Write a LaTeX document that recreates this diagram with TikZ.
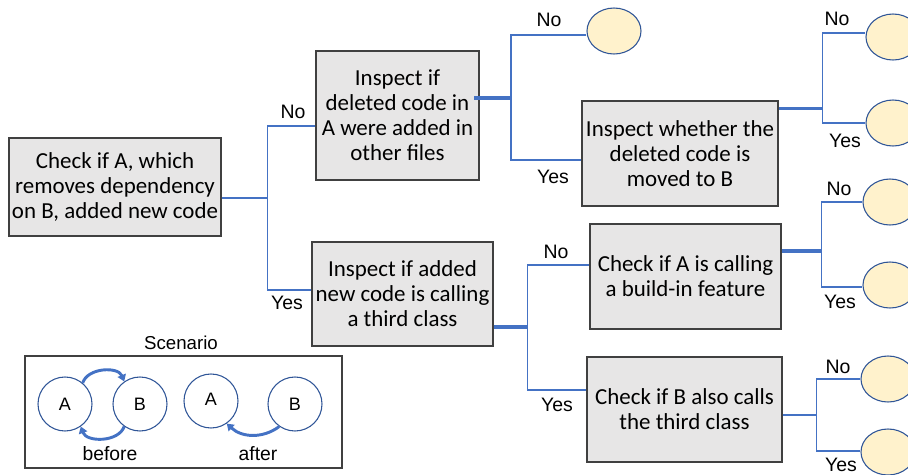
\documentclass[tikz,border=0pt]{standalone}
\usepackage{fontspec}
\setmainfont{Carlito}
\newfontfamily\arialfont{Liberation Sans}
\usetikzlibrary{positioning,shapes.geometric,arrows.meta}
\definecolor{linkblue}{HTML}{4472C4}
\definecolor{leafyellow}{HTML}{FFF2CC}
\definecolor{boxgray}{HTML}{E7E6E6}
\definecolor{circblue}{HTML}{2F5597}
\begin{document}
\begin{tikzpicture}[
  x=0.75pt, y=-0.75pt,
  check/.style={
    draw=black!75, fill=boxgray, line width=0.8pt,
    inner sep=0pt, align=center,
    font=\fontsize{17.2}{18.75}\selectfont
  },
  leaf/.style={
    ellipse, draw=circblue, fill=leafyellow, line width=0.8pt,
    minimum width=40.5pt, minimum height=34.5pt, inner sep=0pt
  },
  lbl/.style={font=\arialfont\fontsize{14.6}{16}\selectfont},
  link/.style={draw=linkblue, line width=1.3pt},
  stub/.style={draw=linkblue, line width=2.6pt},
  cls/.style={circle, draw=circblue, line width=0.8pt, minimum size=40.5pt,
    inner sep=0pt, font=\arialfont\fontsize{13.5}{15}\selectfont},
  dep/.style={draw=linkblue, line width=2.2pt,
    -{Triangle[length=5pt,width=6.5pt]}}
]
\useasboundingbox (0,0) rectangle (908,475);

% --- decision boxes ---
\node[check, minimum width=159pt, minimum height=73.5pt] (b1) at (115,187)
  {Check if A, which\\removes dependency\\on B, added new code};
\node[check, minimum width=122.25pt, minimum height=96.75pt] (b2) at (397.5,115.5)
  {Inspect if\\deleted code in\\A were added in\\other files};
\node[check, minimum width=135.75pt, minimum height=78pt] (b3) at (402.5,294)
  {Inspect if added\\new code is calling\\a third class};
\node[check, minimum width=147pt, minimum height=78.75pt] (b4) at (680,153.5)
  {Inspect whether the\\deleted code is\\moved to B};
\node[check, minimum width=143.25pt, minimum height=78.75pt] (b5) at (685.5,276.5)
  {Check if A is calling\\a build-in feature};
\node[check, minimum width=146.25pt, minimum height=78.75pt] (b6) at (684.5,409.5)
  {Check if B also calls\\the third class};

% --- outcome leaves ---
\foreach \n/\x/\y in {e1/614/31, r1/893/37, r2/893/123, r3/890/202,
                      r4/890/285, r5/888/379, r6/888/452}
  \node[leaf] (\n) at (\x,\y) {};

% --- branches ---
\draw[link] ([yshift=-8.25pt]b1.east) -- ++(46,0) coordinate (j1);
\draw[link] (j1) |- ([yshift=-7.9pt]b2.west);
\draw[link] (j1) |- ([yshift=3pt]b3.west);

\draw[stub] ([xshift=-4pt,yshift=13pt]b2.east) -- ++(37,0) coordinate (j2);
\draw[link] (j2) |- ([yshift=-3pt]e1.west);
\draw[link] (j2) |- ([yshift=-5pt]b4.west);

\draw[stub, line width=2pt] ([yshift=34pt]b4.east) -- ++(44,0) coordinate (j3);
\draw[link] (j3) |- ([yshift=3pt]r1.west);
\draw[link] (j3) |- (r2.west);

\draw[stub] ([yshift=-24.75pt]b3.east) -- ++(34,0) coordinate (j4);
\draw[link] (j4) |- ([yshift=8.6pt]b5.west);
\draw[link] (j4) |- ([yshift=14.6pt]b6.west);

\draw[stub] ([yshift=19pt]b5.east) -- ++(40,0) coordinate (j5);
\draw[link] (j5) |- (r3.west);
\draw[link] (j5) |- ([yshift=-1.5pt]r4.west);

\draw[link, line width=1.8pt] ([yshift=-4pt]b6.east) -- ++(34,0) coordinate (j6);
\draw[link] (j6) |- (r5.west);
\draw[link] (j6) |- ([yshift=1pt]r6.west);

% --- branch labels ---
\node[lbl] (l1) at (293,112) {No};
\node[lbl] (l2) at (287,303) {Yes};
\node[lbl] (l3) at (549,20) {No};
\node[lbl] (l4) at (553,177) {Yes};
\node[lbl] (l5) at (837,19) {No};
\node[lbl] (l6) at (845,141) {Yes};
\node[lbl] (l7) at (556,252) {No};
\node[lbl] (l8) at (557,405) {Yes};
\node[lbl] (l9) at (839,189) {No};
\node[lbl] (l10) at (840,302) {Yes};
\node[lbl] (l11) at (838,367) {No};
\node[lbl] (l12) at (841,465) {Yes};

% --- scenario ---
\node[lbl, font=\arialfont\fontsize{14}{16}\selectfont] (scen) at (181,343) {Scenario};
\draw[black!75, line width=0.9pt] (25,356) rectangle (342,468);
\node[cls] (ca) at (65,404) {A};
\node[cls] (cb) at (140,404) {\raisebox{-3pt}{B}};
\node[cls] (da) at (211,401) {\raisebox{3pt}{A}};
\node[cls] (db) at (295,404) {B};
\draw[dep] (ca.50) to[bend left=70] (cb.125);
\draw[dep] (cb.235) to[bend left=70] (ca.305);
\draw[dep] (db.235) to[bend left=40] (da.305);
\node[lbl, font=\arialfont\fontsize{14.5}{16}\selectfont] (bef) at (110,454) {before};
\node[lbl, font=\arialfont\fontsize{14.5}{16}\selectfont] (aft) at (258,454) {after};
\end{tikzpicture}
\end{document}
